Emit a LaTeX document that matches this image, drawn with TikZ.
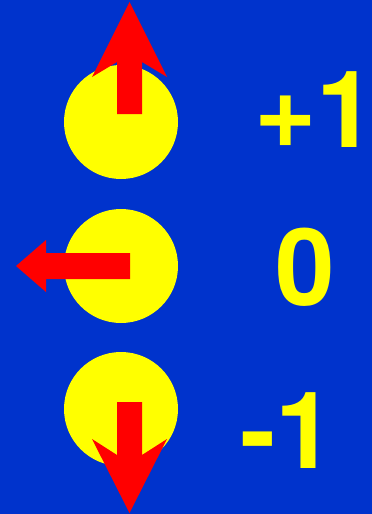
\documentclass[tikz,border=0pt]{standalone}
\usepackage{fontspec}
\newfontfamily\labelfont{TeX Gyre Heros}
\definecolor{bgblue}{RGB}{0,51,204}
\definecolor{ball}{RGB}{255,255,0}
\definecolor{spin}{RGB}{255,0,0}
\begin{document}
\begin{tikzpicture}[x=1pt,y=-1pt,
  ballstyle/.style={fill=ball},
  arrowstyle/.style={fill=spin},
  labelstyle/.style={inner sep=0pt,text=ball,font=\labelfont\fontsize{107}{107}\selectfont\bfseries}]
\fill[bgblue] (0,0) rectangle (372,514);
\useasboundingbox (0,0) rectangle (372,514);
% balls
\fill[ballstyle] (121,122) circle[radius=57];
\fill[ballstyle] (121,266) circle[radius=57];
\fill[ballstyle] (121,409) circle[radius=57];
% arrows
\fill[arrowstyle] (129.5,2) -- (167,77) -- (142,62) -- (142,114) -- (117,114) -- (117,62) -- (92,77) -- cycle;
\fill[arrowstyle] (16,266) -- (46,240) -- (46,253) -- (130,253) -- (130,279) -- (46,279) -- (46,292) -- cycle;
\fill[arrowstyle] (129.5,513) -- (167,439) -- (142,455) -- (142,402) -- (117,402) -- (117,455) -- (92,439) -- cycle;
% labels
\node[labelstyle,anchor=base west] (lp) at (254,147) {+1\kern-0.2em};
\node[labelstyle,anchor=base] (lz) at (305.5,305) {0};
\node[labelstyle,anchor=base west] (lm) at (240,468) {-1};
\end{tikzpicture}
\end{document}
